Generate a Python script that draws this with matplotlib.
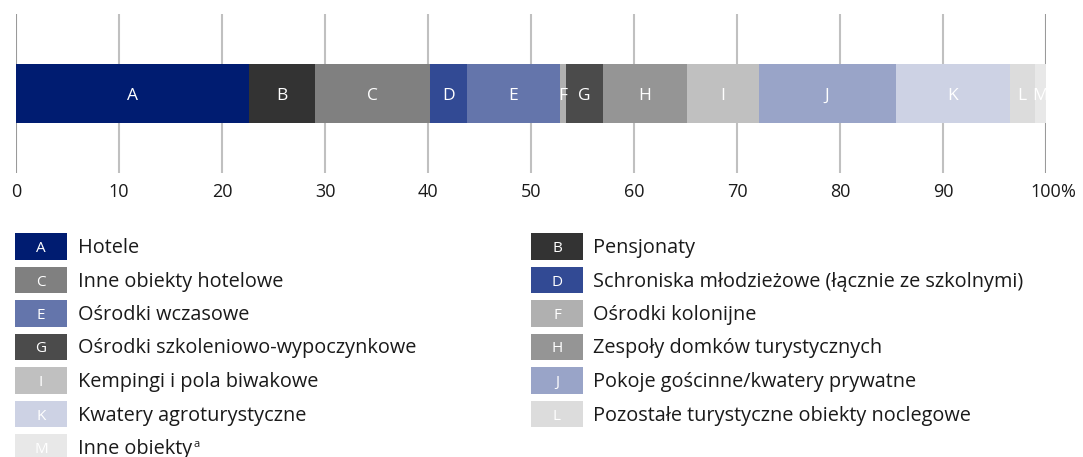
import matplotlib
matplotlib.use("Agg")
import matplotlib.pyplot as plt
from matplotlib.patches import Rectangle

plt.rcParams['font.family'] = ['Open Sans', 'DejaVu Sans']

letters = ["A", "B", "C", "D", "E", "F", "G", "H", "I", "J", "K", "L", "M"]
names = [
    "Hotele",
    "Pensjonaty",
    "Inne obiekty hotelowe",
    "Schroniska młodzieżowe (łącznie ze szkolnymi)",
    "Ośrodki wczasowe",
    "Ośrodki kolonijne",
    "Ośrodki szkoleniowo-wypoczynkowe",
    "Zespoły domków turystycznych",
    "Kempingi i pola biwakowe",
    "Pokoje gościnne/kwatery prywatne",
    "Kwatery agroturystyczne",
    "Pozostałe turystyczne obiekty noclegowe",
    "Inne obiekty",
]
values = [22.6, 6.4, 11.2, 3.6, 9.0, 0.6, 3.6, 8.1, 7.0, 13.3, 11.1, 2.4, 1.1]
colors = ["#001c71", "#333333", "#808080", "#324a94", "#6475ab", "#b0b0b0",
          "#4b4b4b", "#959595", "#c0c0c0", "#99a4c8", "#cdd2e4", "#dcdcdc", "#e8e8e8"]
ticks = [0, 10, 20, 30, 40, 50, 60, 70, 80, 90, 100]
tick_labels = ["0", "10", "20", "30", "40", "50", "60", "70", "80", "90", "100"]

W, H = 1083, 457
fig = plt.figure(figsize=(W / 100, H / 100), dpi=100)

# main axes in pixel terms
ax_left, ax_right, ax_top, ax_bot = 16, 1046, 14, 173
ax = fig.add_axes([ax_left / W, 1 - ax_bot / H, (ax_right - ax_left) / W, (ax_bot - ax_top) / H])
ax.set_xlim(0, 100)
ax.set_ylim(0, 1)
for s in ax.spines.values():
    s.set_visible(False)
ax.set_xticks([])
ax.set_yticks([])

for t in ticks:
    c = "#9a9a9a" if t in (0, 100) else "#c0c0c0"
    ax.axvline(t, color=c, lw=1.5, zorder=0)

bar_center = (ax_bot - 93.5) / (ax_bot - ax_top)
bar_h = 59 / (ax_bot - ax_top)
left = 0
for L, v, c in zip(letters, values, colors):
    ax.barh(bar_center, v, left=left, height=bar_h, color=c, edgecolor='none', zorder=2)
    ax.annotate(L, xy=(left + v / 2, bar_center), xytext=(0, -6), textcoords='offset pixels',
                ha='center', va='baseline', color='white', fontsize=12.5, zorder=3)
    left += v

# tick labels
ytick = 1 - 197 / H
for t, lab in zip(ticks, tick_labels):
    xf = (ax_left + (ax_right - ax_left) * t / 100) / W
    txt = fig.text(xf, ytick, lab, ha='center', va='baseline', fontsize=13, color='#1a1a1a')
    if t == 100:
        ax.annotate("%", xy=(1, 0), xycoords=txt, xytext=(-1, 0), textcoords='offset pixels',
                    ha='left', va='bottom', fontsize=13,
                    color='#1a1a1a', annotation_clip=False)

# legend
row0 = 246.5
step = 33.5
box_w, box_h = 52, 26.5
cols_x = [(15, 78), (531, 593)]
for i, (L, n, c) in enumerate(zip(letters, names, colors)):
    col = i % 2
    row = i // 2
    bx, tx = cols_x[col]
    cy = row0 + row * step
    fig.patches.append(Rectangle((bx / W, 1 - (cy + box_h / 2) / H), box_w / W, box_h / H,
                                 transform=fig.transFigure, facecolor=c, edgecolor='none'))
    fig.text((bx + box_w / 2) / W, 1 - (cy + 5.5) / H, L, ha='center', va='baseline',
             color='white', fontsize=11)
    t = fig.text(tx / W, 1 - (cy + 6.5) / H, n, ha='left', va='baseline',
                 color='#1a1a1a', fontsize=14.3)
    if L == "M":
        ax.annotate("a", xy=(1, 0.45), xycoords=t, xytext=(1, 0), textcoords='offset pixels',
                    ha='left', va='bottom', fontsize=8,
                    color='#1a1a1a', annotation_clip=False)

fig.savefig("out.png", dpi=100)
